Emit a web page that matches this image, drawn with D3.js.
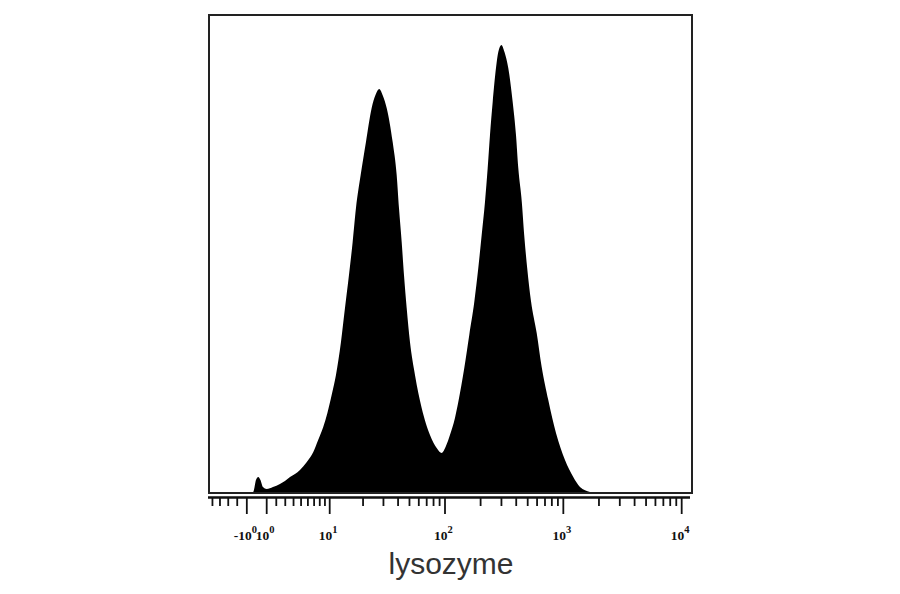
<!DOCTYPE html>
<html>
<head>
<meta charset="utf-8">
<script src="https://cdn.jsdelivr.net/npm/d3@7"></script>
<style>
  html, body { margin: 0; padding: 0; background: #fff; }
  svg { display: block; }
</style>
</head>
<body>
<svg id="chart" width="900" height="594"></svg>
<script>
// ---- data (lysozyme fluorescence, biexponential display) ----
const binValues = [-0.43, -0.23, -0.03, 0.20, 0.42, 0.67, 1.05, 1.70, 2.45, 3.02,
  3.62, 4.25, 4.92, 5.91, 6.95, 7.80, 8.76, 9.61, 10.55, 11.57,
  12.86, 13.98, 15.18, 16.37, 17.51, 19.25, 21.41, 23.99, 25.88, 27.90,
  30.01, 32.29, 36.33, 39.30, 41.12, 43.35, 45.35, 47.81, 50.99, 56.23,
  64.09, 75.35, 85.86, 94.66, 102.9, 111.2, 122.6, 130.8, 147.0, 162.0,
  178.6, 193.1, 206.2, 219.9, 231.8, 242.4, 255.5, 272.4, 284.9, 303.2,
  321.4, 346.0, 377.0, 402.0, 420.4, 450.1, 471.6, 499.9, 538.2, 601.4,
  662.8, 753.5, 875.3, 1043, 1225, 1396, 1696, 1906];
const counts = [0, 4, 14, 17, 14, 7, 5, 7, 10, 13,
  17, 20, 24, 32, 42, 54, 67, 81, 99, 119,
  152, 186, 219, 252, 286, 319, 352, 386, 399, 405,
  398, 386, 352, 319, 286, 252, 219, 186, 152, 119,
  86, 59, 46, 41, 48, 59, 76, 92, 126, 159,
  192, 226, 259, 292, 326, 359, 392, 426, 442, 449,
  442, 426, 392, 359, 326, 292, 259, 226, 193, 161,
  127, 94, 61, 34, 17, 7, 2, 0];

const majorTicks = [-1, 1, 10, 100, 1000, 10000];
const majorLabels = [["-10", "0"], ["10", "0"], ["10", "1"], ["10", "2"], ["10", "3"], ["10", "4"]];
const minorTicks = [-5, -4, -3, -2, 2, 3, 4, 5, 6, 7, 8, 9,
  20, 30, 40, 50, 60, 70, 80, 90, 200, 300, 400, 500, 600, 700, 800, 900,
  2000, 3000, 4000, 5000, 6000, 7000, 8000, 9000];
const axisTitle = "lysozyme";

// ---- scales ----
const W = 5.14;                       // linear-region width of the biexponential transform
const T = v => Math.asinh(v / W);
const xDomain = [-5.42, 12340];
const x = d3.scaleLinear().domain(xDomain.map(T)).range([209, 692]);
const X = v => x(T(v));
const y = d3.scaleLinear().domain([0, 480]).range([494, 14]);

const svg = d3.select("#chart");

// histogram
const data = binValues.map((v, i) => ({ v, c: counts[i] }));
const area = d3.area()
  .x(d => X(d.v))
  .y0(y(0))
  .y1(d => y(d.c))
  .curve(d3.curveMonotoneX);
svg.append("path")
  .datum(data)
  .attr("d", area)
  .attr("fill", "#000");

// frame
svg.append("rect")
  .attr("x", 209).attr("y", 15)
  .attr("width", 692 - 209).attr("height", 493 - 15)
  .attr("fill", "none")
  .attr("stroke", "#222")
  .attr("stroke-width", 2);

// axis
const axisY = 497;
const gMinor = svg.append("g").attr("transform", `translate(0,${axisY})`)
  .call(d3.axisBottom(x).tickValues(minorTicks.map(T)).tickSize(9).tickSizeOuter(0).tickFormat(""));
const gMajor = svg.append("g").attr("transform", `translate(0,${axisY})`)
  .call(d3.axisBottom(x).tickValues(majorTicks.map(T)).tickSize(17).tickSizeOuter(0).tickFormat(""));
[gMinor, gMajor].forEach(g => {
  g.selectAll("line").attr("stroke", "#111").attr("stroke-width", 1.8);
  g.select(".domain").attr("stroke", "#111").attr("stroke-width", 1.8)
    .attr("d", `M${x.range()[0] - 1},0.5H${x.range()[1] - 2}`);
});

// tick labels
const labels = svg.append("g")
  .attr("font-family", "'Liberation Serif', 'DejaVu Serif', serif")
  .attr("font-weight", "bold")
  .attr("fill", "#111");
majorTicks.forEach((v, i) => {
  const t = labels.append("text")
    .attr("x", X(v) - 1)
    .attr("y", 540)
    .attr("text-anchor", "middle")
    .attr("font-size", 13.5);
  t.append("tspan").text(majorLabels[i][0]);
  t.append("tspan").attr("dy", -7).attr("font-size", 10.5).text(majorLabels[i][1]);
});

// axis title
svg.append("text")
  .attr("x", 451)
  .attr("y", 574)
  .attr("text-anchor", "middle")
  .attr("font-family", "'Liberation Sans', Arial, sans-serif")
  .attr("font-size", 30)
  .attr("fill", "#333")
  .text(axisTitle);
</script>
</body>
</html>
